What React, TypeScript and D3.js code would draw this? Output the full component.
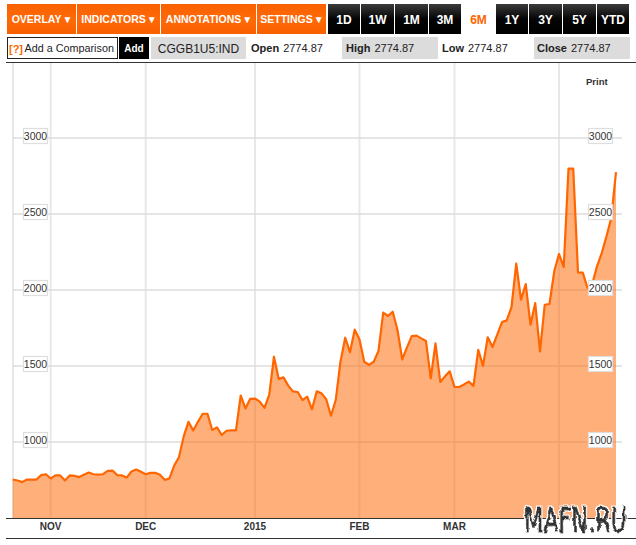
import * as d3 from "d3";

const FONT = "'Liberation Sans', Arial, sans-serif";
const ORANGE = "#ff6600";

// one close per weekday, 22 Oct 2014 to 17 Apr 2015
const closes = [
  753, 747, 736, 753, 753, 753, 782, 788,
  760, 780, 780, 747, 780, 777, 769, 784, 799, 788, 786, 788,
  810, 812, 782, 780, 766, 806, 819, 804,
  788, 797, 797, 784, 751, 760, 845, 900, 1037, 1133, 1076, 1133,
  1186, 1186, 1079, 1096, 1046, 1074, 1076, 1076, 1306, 1220, 1284,
  1286, 1266, 1225, 1310, 1561, 1414, 1425, 1371, 1333, 1329, 1276,
  1298, 1215, 1333, 1320, 1281, 1173, 1276, 1528, 1686, 1590, 1739,
  1675, 1528, 1507, 1528, 1599, 1851, 1829, 1857, 1737, 1544, 1623,
  1697, 1700, 1682, 1664, 1419, 1649, 1395, 1432, 1465,
  1362, 1362, 1378, 1397, 1369, 1606, 1501, 1689, 1625, 1706, 1789,
  1800, 1888, 2173, 1936, 2039, 1772, 1914, 1596, 1903, 1908, 2123,
  2237, 2151, 2798, 2798, 2116, 2114, 2013, 2040, 2156, 2243, 2353,
  2474, 2774.87,
];

const days = d3.timeDay
  .range(new Date(2014, 9, 22), new Date(2015, 3, 18))
  .filter((d) => d.getDay() !== 0 && d.getDay() !== 6);

const monthStarts = [
  new Date(2014, 10, 3),
  new Date(2014, 11, 1),
  new Date(2015, 0, 1),
  new Date(2015, 1, 2),
  new Date(2015, 2, 2),
  new Date(2015, 3, 1),
];
const monthLabels = ["NOV", "DEC", "2015", "FEB", "MAR", ""];
const priceTicks = [1000, 1500, 2000, 2500, 3000];

const menuLabels = ["OVERLAY", "INDICATORS", "ANNOTATIONS", "SETTINGS"];
const menuEdges = [7, 77, 161, 257, 327];
const rangeLabels = ["1D", "1W", "1M", "3M", "6M", "1Y", "3Y", "5Y", "YTD"];
const rangeEdges = [328, 361, 395, 429, 462, 496, 529, 563, 597, 630];
const activeRange = "6M";

const x = d3.scalePoint<number>().domain(days.map((d) => +d)).range([12.7, 616]);
const y = d3.scaleLinear().domain([500, 3000]).range([518, 138]);

const area = d3
  .area<number>()
  .x((_, i) => x(+days[i])!)
  .y0(y(500))
  .y1((d) => y(d));
const line = d3
  .line<number>()
  .x((_, i) => x(+days[i])!)
  .y((d) => y(d));

function PriceLabel({ left, value }: { left: number; value: number }) {
  return (
    <g>
      <rect x={left} y={y(value) - 9.5} width={24} height={15} fill="#fff" stroke="#dedede" strokeWidth={1.2} />
      <text x={left + 12} y={y(value) + 2} textAnchor="middle" fontSize={10.5} fill="#333">
        {value}
      </text>
    </g>
  );
}

function Stat({ left, name, value }: { left: number; name: string; value: string }) {
  return (
    <text x={left} y={52} fontSize={11} fill="#222">
      <tspan fontWeight="bold">{name}</tspan>
      <tspan dx={4}>{value}</tspan>
    </text>
  );
}

export default function App() {
  return (
    <svg
      width={636}
      height={545}
      style={{ position: "absolute", left: 0, top: 0, background: "#fff" }}
      fontFamily={FONT}
    >
      <defs>
        <linearGradient id="menu-grad" x1="0" x2="0" y1="0" y2="1">
          <stop offset="0" stopColor="#f96000" />
          <stop offset="0.5" stopColor="#ff6a08" />
          <stop offset="1" stopColor="#f96000" />
        </linearGradient>
        <linearGradient id="range-grad" x1="0" x2="0" y1="0" y2="1">
          <stop offset="0" stopColor="#3a3a3a" />
          <stop offset="0.5" stopColor="#050505" />
          <stop offset="1" stopColor="#000" />
        </linearGradient>
        {/* hand-drawn look for the watermark: wobble, then a white halo */}
        <filter id="rough" x="-5%" y="-20%" width="110%" height="140%">
          <feTurbulence type="fractalNoise" baseFrequency="0.14" numOctaves={2} seed={4} result="noise" />
          <feDisplacementMap
            in="SourceGraphic"
            in2="noise"
            scale={5}
            xChannelSelector="R"
            yChannelSelector="G"
            result="wobble"
          />
          <feMorphology in="wobble" operator="dilate" radius={1.2} result="fat" />
          <feFlood floodColor="#fff" />
          <feComposite in2="fat" operator="in" result="halo" />
          <feMerge>
            <feMergeNode in="halo" />
            <feMergeNode in="wobble" />
          </feMerge>
        </filter>
      </defs>

      {/* toolbar */}
      {menuLabels.map((label, i) => (
        <g key={label}>
          <rect
            x={menuEdges[i]}
            y={4}
            width={menuEdges[i + 1] - menuEdges[i] - 1}
            height={30}
            fill="url(#menu-grad)"
          />
          <text
            x={(menuEdges[i] + menuEdges[i + 1]) / 2}
            y={23}
            textAnchor="middle"
            fontSize={10.5}
            fontWeight="bold"
            fill="#fff"
          >
            {label}
            <tspan dx={1} fontSize={10}>
              ▼
            </tspan>
          </text>
        </g>
      ))}
      {rangeLabels.map((label, i) => {
        const active = label === activeRange;
        return (
          <g key={label}>
            <rect
              x={rangeEdges[i]}
              y={4}
              width={rangeEdges[i + 1] - rangeEdges[i] - 1}
              height={30}
              fill={active ? "#fff" : "url(#range-grad)"}
            />
            <text
              x={(rangeEdges[i] + rangeEdges[i + 1]) / 2 - 0.5}
              y={24}
              textAnchor="middle"
              fontSize={12}
              fontWeight="bold"
              fill={active ? ORANGE : "#fff"}
            >
              {label}
            </text>
          </g>
        );
      })}

      {/* comparison row */}
      <rect x={7.5} y={37.5} width={110} height={21} fill="#fff" stroke="#222" />
      <text x={16} y={52.5} textAnchor="middle" fontSize={11} fontWeight="bold" fill={ORANGE}>
        [?]
      </text>
      <text x={24.5} y={52} fontSize={10.8} fill="#222">
        Add a Comparison
      </text>
      <rect x={119} y={37} width={30} height={22} fill="#000" />
      <text x={134} y={52} textAnchor="middle" fontSize={10} fontWeight="bold" fill="#fff">
        Add
      </text>
      <rect x={151} y={37} width={95} height={22} fill="#dcdcdc" />
      <text x={198.5} y={53} textAnchor="middle" fontSize={12} fill="#222">
        CGGB1U5:IND
      </text>
      <Stat left={251} name="Open" value="2774.87" />
      <rect x={342} y={37} width={96} height={22} fill="#dcdcdc" />
      <Stat left={346} name="High" value="2774.87" />
      <Stat left={442} name="Low" value="2774.87" />
      <rect x={534} y={37} width={96} height={22} fill="#dcdcdc" />
      <Stat left={537} name="Close" value="2774.87" />
      <line x1={6} x2={636} y1={62.5} y2={62.5} stroke="#333" strokeWidth={1} />
      <text x={586} y={85} fontSize={9.5} fontWeight="bold" fill="#333">
        Print
      </text>

      {/* grid */}
      <line x1={13} x2={13} y1={63} y2={518} stroke="#e8e8e8" strokeWidth={2} />
      {monthStarts.map((d) => (
        <line key={+d} x1={x(+d)} x2={x(+d)} y1={63} y2={518} stroke="#e8e8e8" strokeWidth={2} />
      ))}
      {priceTicks.map((t) => (
        <line key={t} x1={13} x2={622} y1={y(t)} y2={y(t)} stroke="#dcdcdc" strokeWidth={1.5} />
      ))}

      {/* series */}
      <path d={area(closes)!} fill={ORANGE} fillOpacity={0.52} />
      <path d={line(closes)!} fill="none" stroke={ORANGE} strokeWidth={2.2} strokeLinejoin="round" />

      {priceTicks.map((t) => (
        <g key={t}>
          <PriceLabel left={23.5} value={t} />
          <PriceLabel left={588.5} value={t} />
        </g>
      ))}

      {/* month axis */}
      <line x1={6} x2={636} y1={518.5} y2={518.5} stroke="#333" strokeWidth={1} />
      <line x1={6} x2={636} y1={538.5} y2={538.5} stroke="#333" strokeWidth={1} />
      {monthStarts.map((d, i) => (
        <text key={+d} x={x(+d)} y={530} textAnchor="middle" fontSize={10} fontWeight="bold" fill="#333">
          {monthLabels[i]}
        </text>
      ))}

      {/* watermark */}
      <text
        x={524}
        y={532}
        fontFamily="'DejaVu Sans', sans-serif"
        fontSize={34}
        textLength={103}
        lengthAdjust="spacingAndGlyphs"
        fill="#333"
        stroke="#333"
        strokeWidth={1.2}
        filter="url(#rough)"
      >
        MAFN.RU
      </text>
    </svg>
  );
}
